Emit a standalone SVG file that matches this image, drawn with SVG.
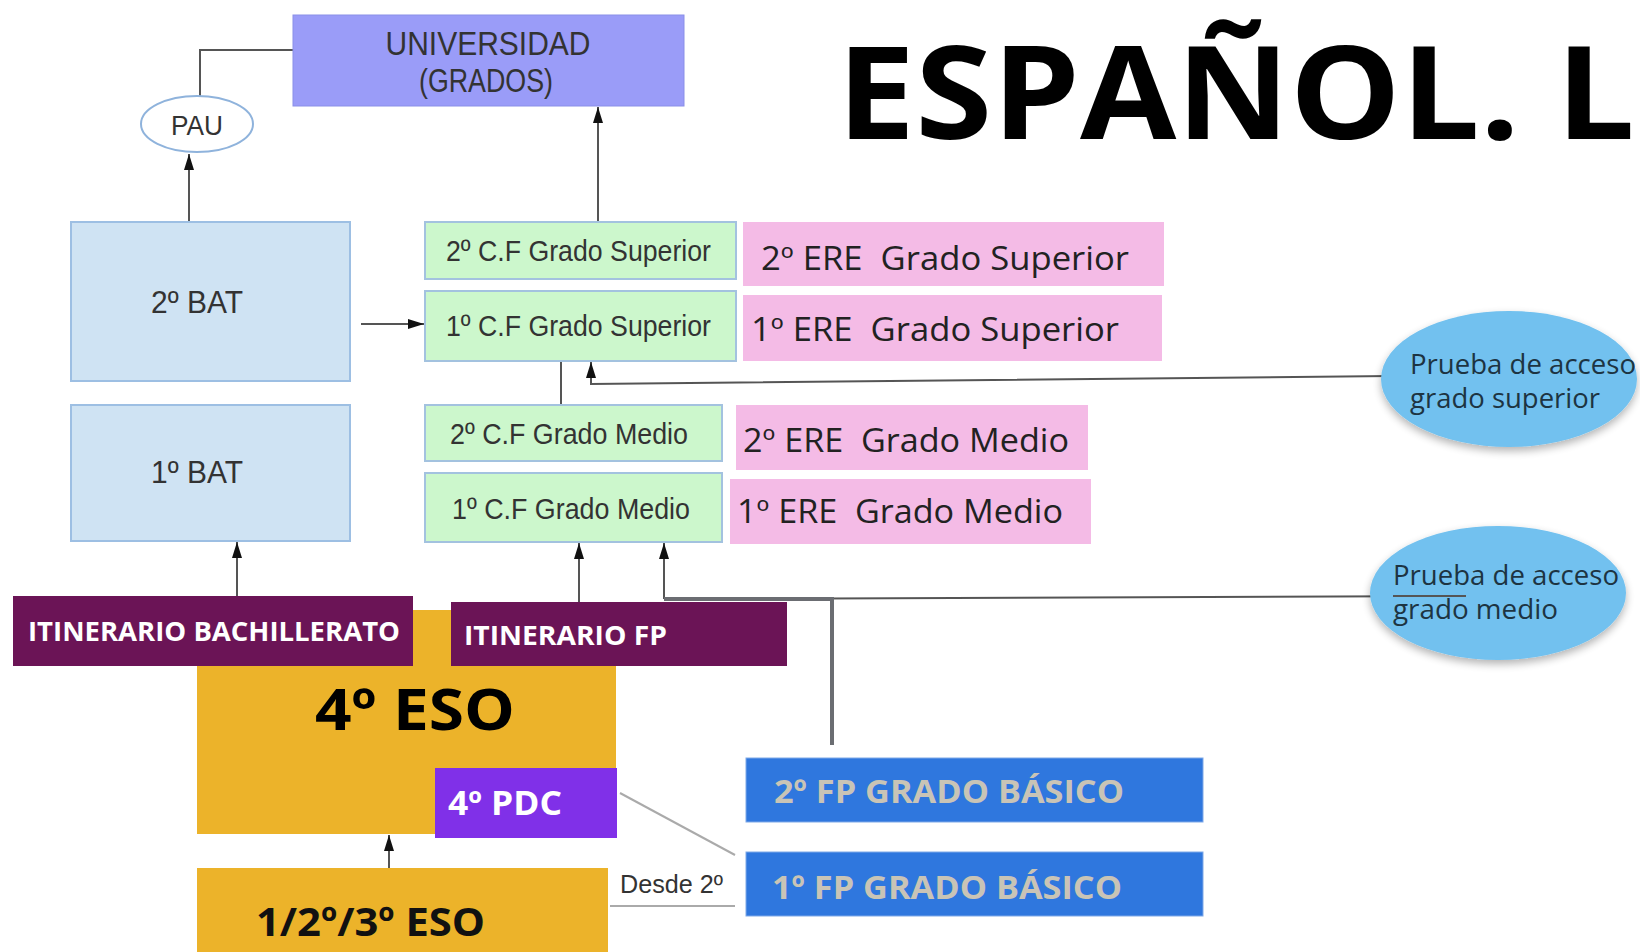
<svg xmlns="http://www.w3.org/2000/svg" width="1640" height="952" viewBox="0 0 1640 952">
<defs>
<marker id="ah" viewBox="0 0 16 10" refX="16" refY="5" markerWidth="16" markerHeight="10" markerUnits="userSpaceOnUse" orient="auto">
<path d="M0,0 L16,5 L0,10 Z" fill="#111"/>
</marker>
<filter id="sh" x="-20%" y="-20%" width="140%" height="150%">
<feGaussianBlur in="SourceAlpha" stdDeviation="4"/>
<feOffset dx="0" dy="4"/>
<feComponentTransfer><feFuncA type="linear" slope="0.3"/></feComponentTransfer>
<feMerge><feMergeNode/><feMergeNode in="SourceGraphic"/></feMerge>
</filter>
</defs>
<style>
.narrow{font-family:"Liberation Sans Narrow","Liberation Sans",Arial,sans-serif;fill:#333;}
.open{font-family:"Open Sans","Noto Sans",sans-serif;fill:#222;white-space:pre;}
.bold{font-family:"Open Sans","Noto Sans",sans-serif;font-weight:bold;}
.green{fill:#ccf7cc;stroke:#a3c2df;stroke-width:2;}
.pink{fill:#f4bbe6;}
.bat{fill:#cfe3f3;stroke:#9dbfe3;stroke-width:2;}
.itin{fill:#6b1456;}
.eso{fill:#ecb32a;}
.fpb{fill:#2f77de;stroke:#7fa9e8;stroke-width:1;}
.prueba{fill:#72c1ef;}
.ln{stroke:#555;stroke-width:2;fill:none;}
.thick{stroke:#6b6d72;stroke-width:4;fill:none;}
.light{stroke:#aaa;stroke-width:2;fill:none;}
</style>
<rect width="1640" height="952" fill="#fff"/>

<g id="connectors">
<polyline class="ln" points="293,50 200,50 200,96"/>
<line class="ln" x1="189" y1="222" x2="189" y2="154" marker-end="url(#ah)"/>
<line class="ln" x1="598" y1="222" x2="598" y2="107" marker-end="url(#ah)"/>
<line class="ln" x1="361" y1="324" x2="424" y2="324" marker-end="url(#ah)"/>
<line class="ln" x1="561" y1="361" x2="561" y2="405"/>
<polyline class="ln" points="1391,376 591,384 591,362" marker-end="url(#ah)"/>
<line class="ln" x1="237" y1="596" x2="237" y2="542" marker-end="url(#ah)"/>
<line class="ln" x1="579" y1="602" x2="579" y2="543" marker-end="url(#ah)"/>
<line class="ln" x1="664" y1="599" x2="664" y2="543" marker-end="url(#ah)"/>
<line class="ln" x1="664" y1="599" x2="1466" y2="596"/>
<polyline class="thick" points="664,599 832,599 832,745"/>
<line class="ln" x1="389" y1="868" x2="389" y2="835" marker-end="url(#ah)"/>
<line class="light" x1="620" y1="793" x2="735" y2="855"/>
<line class="light" x1="610" y1="906" x2="735" y2="906"/>
<text class="narrow" x="620" y="893" font-size="26" textLength="103" lengthAdjust="spacingAndGlyphs">Desde 2º</text>
</g>

<g id="universidad">
<rect x="293" y="15" width="391" height="91" fill="#9a9cf8" stroke="#8a8fe8" stroke-width="1"/>
<text class="narrow" x="488" y="55" font-size="33" text-anchor="middle" textLength="205" lengthAdjust="spacingAndGlyphs">UNIVERSIDAD</text>
<text class="narrow" x="486" y="92" font-size="33" text-anchor="middle" textLength="134" lengthAdjust="spacingAndGlyphs">(GRADOS)</text>
</g>

<g id="pau">
<ellipse cx="197" cy="124" rx="56" ry="28" fill="#fff" stroke="#8fb3dc" stroke-width="2"/>
<text class="narrow" x="197" y="135" font-size="28" text-anchor="middle" textLength="52" lengthAdjust="spacingAndGlyphs">PAU</text>
</g>

<g id="bat2">
<rect class="bat" x="71" y="222" width="279" height="159"/>
<text class="narrow" x="197" y="313" font-size="32" text-anchor="middle" textLength="92" lengthAdjust="spacingAndGlyphs">2º BAT</text>
</g>
<g id="bat1">
<rect class="bat" x="71" y="405" width="279" height="136"/>
<text class="narrow" x="197" y="483" font-size="32" text-anchor="middle" textLength="92" lengthAdjust="spacingAndGlyphs">1º BAT</text>
</g>

<g id="cf-gs2">
<rect class="green" x="425" y="222" width="311" height="57"/>
<text class="narrow" x="446" y="261" font-size="30" textLength="265" lengthAdjust="spacingAndGlyphs">2º C.F Grado Superior</text>
</g>
<g id="cf-gs1">
<rect class="green" x="425" y="291" width="311" height="70"/>
<text class="narrow" x="446" y="336" font-size="30" textLength="265" lengthAdjust="spacingAndGlyphs">1º C.F Grado Superior</text>
</g>
<g id="cf-gm2">
<rect class="green" x="425" y="405" width="297" height="56"/>
<text class="narrow" x="450" y="444" font-size="30" textLength="238" lengthAdjust="spacingAndGlyphs">2º C.F Grado Medio</text>
</g>
<g id="cf-gm1">
<rect class="green" x="425" y="473" width="297" height="69"/>
<text class="narrow" x="452" y="519" font-size="30" textLength="238" lengthAdjust="spacingAndGlyphs">1º C.F Grado Medio</text>
</g>

<g id="ere-gs2">
<rect class="pink" x="743" y="222" width="421" height="64"/>
<text class="open" x="761" y="270" font-size="32" textLength="368" lengthAdjust="spacingAndGlyphs">2º ERE  Grado Superior</text>
</g>
<g id="ere-gs1">
<rect class="pink" x="743" y="295" width="419" height="66"/>
<text class="open" x="751" y="341" font-size="32" textLength="368" lengthAdjust="spacingAndGlyphs">1º ERE  Grado Superior</text>
</g>
<g id="ere-gm2">
<rect class="pink" x="736" y="405" width="352" height="65"/>
<text class="open" x="743" y="452" font-size="32" textLength="326" lengthAdjust="spacingAndGlyphs">2º ERE  Grado Medio</text>
</g>
<g id="ere-gm1">
<rect class="pink" x="730" y="479" width="361" height="65"/>
<text class="open" x="737" y="523" font-size="32" textLength="326" lengthAdjust="spacingAndGlyphs">1º ERE  Grado Medio</text>
</g>

<g id="prueba-gs">
<ellipse class="prueba" cx="1509" cy="379" rx="128" ry="68" filter="url(#sh)"/>
<text class="open" x="1410" y="374" font-size="27" style="fill:#1d3442" textLength="226" lengthAdjust="spacingAndGlyphs">Prueba de acceso</text>
<text class="open" x="1410" y="408" font-size="27" style="fill:#1d3442" textLength="190" lengthAdjust="spacingAndGlyphs">grado superior</text>
</g>
<g id="prueba-gm">
<ellipse class="prueba" cx="1498" cy="593" rx="128" ry="67" filter="url(#sh)"/>
<text class="open" x="1393" y="585" font-size="27" style="fill:#1d3442" textLength="226" lengthAdjust="spacingAndGlyphs">Prueba de acceso</text>
<text class="open" x="1393" y="619" font-size="27" style="fill:#1d3442" textLength="165" lengthAdjust="spacingAndGlyphs">grado medio</text>
<line class="ln" x1="1393" y1="596" x2="1466" y2="596"/>
</g>

<g id="eso4">
<rect class="eso" x="197" y="610" width="419" height="224"/>
<text class="bold" x="415" y="730" font-size="58" fill="#000" text-anchor="middle" textLength="200" lengthAdjust="spacingAndGlyphs">4º ESO</text>
</g>
<g id="itin-bach">
<rect class="itin" x="13" y="596" width="400" height="70"/>
<text class="bold" x="28" y="641" font-size="26" fill="#fff" textLength="372" lengthAdjust="spacingAndGlyphs">ITINERARIO BACHILLERATO</text>
</g>
<g id="itin-fp">
<rect class="itin" x="451" y="602" width="336" height="64"/>
<text class="bold" x="464" y="645" font-size="26" fill="#fff" textLength="203" lengthAdjust="spacingAndGlyphs">ITINERARIO FP</text>
</g>
<g id="pdc4">
<rect x="435" y="768" width="182" height="70" fill="#8030e8"/>
<text class="bold" x="448" y="815" font-size="34" fill="#fff" textLength="114" lengthAdjust="spacingAndGlyphs">4º PDC</text>
</g>
<g id="eso123">
<rect class="eso" x="197" y="868" width="411" height="84"/>
<text class="bold" x="256" y="936" font-size="40" fill="#111" textLength="229" lengthAdjust="spacingAndGlyphs">1/2º/3º ESO</text>
</g>

<g id="fpb2">
<rect class="fpb" x="746" y="758" width="457" height="64"/>
<text class="bold" x="774" y="803" font-size="33" fill="#c9c4b6" textLength="350" lengthAdjust="spacingAndGlyphs">2º FP GRADO BÁSICO</text>
</g>
<g id="fpb1">
<rect class="fpb" x="746" y="852" width="457" height="64"/>
<text class="bold" x="772" y="899" font-size="33" fill="#c9c4b6" textLength="350" lengthAdjust="spacingAndGlyphs">1º FP GRADO BÁSICO</text>
</g>

<g id="title">
<text class="bold" x="837" y="139" font-size="130" fill="#000" textLength="798" lengthAdjust="spacingAndGlyphs">ESPAÑOL. L</text>
</g>
</svg>
